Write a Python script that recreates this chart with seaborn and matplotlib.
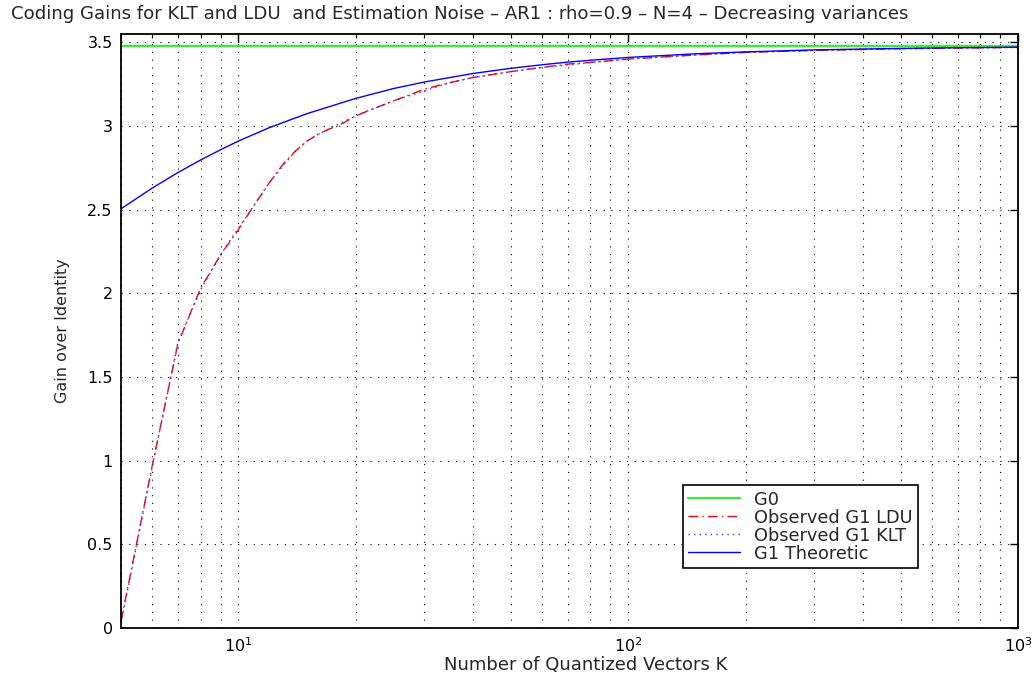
import matplotlib
matplotlib.use("Agg")
import matplotlib.pyplot as plt
import matplotlib.ticker as mticker
import numpy as np
import pandas as pd
import seaborn as sns

# ---------------- data ----------------
K_g0 = [5, 1000]
G0 = [3.48, 3.48]

K_obs = [5, 6, 7, 8, 9, 10, 11, 12, 13, 14, 15, 16, 17, 18, 20, 22, 25, 30,
         35, 40, 50, 60, 70, 80, 100, 150, 200, 300, 500, 700, 1000]
G1_ldu = [0.04, 0.96, 1.70, 2.03, 2.23, 2.38, 2.53, 2.66, 2.77, 2.85, 2.91,
          2.95, 2.98, 3.00, 3.06, 3.10, 3.15, 3.22, 3.26, 3.29, 3.325, 3.35,
          3.37, 3.38, 3.40, 3.425, 3.44, 3.452, 3.462, 3.466, 3.47]
G1_klt = [0.03, 0.95, 1.71, 2.02, 2.23, 2.39, 2.53, 2.66, 2.76, 2.85, 2.91,
          2.95, 2.98, 3.01, 3.06, 3.10, 3.15, 3.21, 3.26, 3.29, 3.325, 3.35,
          3.365, 3.38, 3.40, 3.425, 3.44, 3.452, 3.462, 3.466, 3.47]

K_th = [5, 6, 7, 8, 9, 10, 12, 15, 20, 25, 30, 40, 50, 60, 70, 80, 100, 150,
        200, 300, 500, 700, 1000]
G1_th = [2.505, 2.628, 2.722, 2.797, 2.858, 2.91, 2.99, 3.074, 3.165, 3.224,
         3.263, 3.314, 3.345, 3.366, 3.382, 3.393, 3.41, 3.432, 3.443, 3.455,
         3.464, 3.468, 3.471]

labels = ["G0", "Observed G1 LDU", "Observed G1 KLT", "G1 Theoretic"]
yticks = [0, 0.5, 1, 1.5, 2, 2.5, 3, 3.5]
ytick_labels = ["0", "0.5", "1", "1.5", "2", "2.5", "3", "3.5"]
title = ("Coding Gains for KLT and LDU  and Estimation Noise \u2013 AR1 : "
         "rho=0.9 \u2013 N=4 \u2013 Decreasing variances")
xlabel = "Number of Quantized Vectors K"
ylabel = "Gain over Identity"

# ---------------- style ----------------
sns.set_style("white")
plt.rcParams["font.family"] = ["DejaVu Sans"]

W, H = 1036, 681
fig = plt.figure(figsize=(W / 100, H / 100), dpi=100)
L, R, T, B = 121, 1018, 34, 628
ax = fig.add_axes([L / W, 1 - B / H, (R - L) / W, (B - T) / H])

df_g0 = pd.DataFrame({"K": K_g0, "G": G0})
df_ldu = pd.DataFrame({"K": K_obs, "G": G1_ldu})
df_klt = pd.DataFrame({"K": K_obs, "G": G1_klt})
df_th = pd.DataFrame({"K": K_th, "G": G1_th})

sns.lineplot(data=df_g0, x="K", y="G", ax=ax, color="#33ee33", lw=1.6,
             label=labels[0], sort=False)
sns.lineplot(data=df_ldu, x="K", y="G", ax=ax, color="red", lw=1.0,
             linestyle=(0, (7, 3, 1, 3)), label=labels[1], sort=False)
sns.lineplot(data=df_klt, x="K", y="G", ax=ax, color="#3333ff", lw=1.0,
             linestyle=(0, (1, 3)), label=labels[2], sort=False)
sns.lineplot(data=df_th, x="K", y="G", ax=ax, color="blue", lw=1.0,
             label=labels[3], sort=False)

ax.set_xscale("log")
ax.set_xlim(5, 1000)
ax.set_ylim(0, 3.55)
ax.set_yticks(yticks)
ax.set_yticklabels(ytick_labels)
ax.xaxis.set_minor_formatter(mticker.NullFormatter())

grid_ls = (0, (1, 6))
ax.grid(True, which="major", axis="both", color="black", lw=0.8, ls=grid_ls)
ax.grid(True, which="minor", axis="x", color="black", lw=0.8, ls=grid_ls)

for s in ax.spines.values():
    s.set_visible(True)
    s.set_color("black")
    s.set_linewidth(1.3)

ax.tick_params(which="both", direction="in", top=True, right=True,
               colors="black", labelsize=11.5)
ax.tick_params(which="major", length=6, width=1.0, pad=6)
ax.tick_params(which="minor", length=3, width=0.8)

ax.set_xlabel(xlabel, fontsize=13)
ax.xaxis.set_label_coords((586 - L) / (R - L), -(656 - B) / (B - T))
ax.set_ylabel(ylabel, fontsize=11.5)
ax.yaxis.set_label_coords(-(L - 70) / (R - L), 0.5)

fig.text(460 / W, 1 - 14 / H, title, ha="center", va="center", fontsize=13.1)

leg = ax.legend(loc="lower right",
                bbox_to_anchor=((918 - L) / (R - L), (B - 568) / (B - T)),
                borderaxespad=0, frameon=True, fancybox=False,
                edgecolor="black", framealpha=1, fontsize=12.8,
                handlelength=2.9, handletextpad=0.8, labelspacing=0.0,
                borderpad=0.3)
leg.get_frame().set_linewidth(1.2)

fig.savefig("out.png", dpi=100)
